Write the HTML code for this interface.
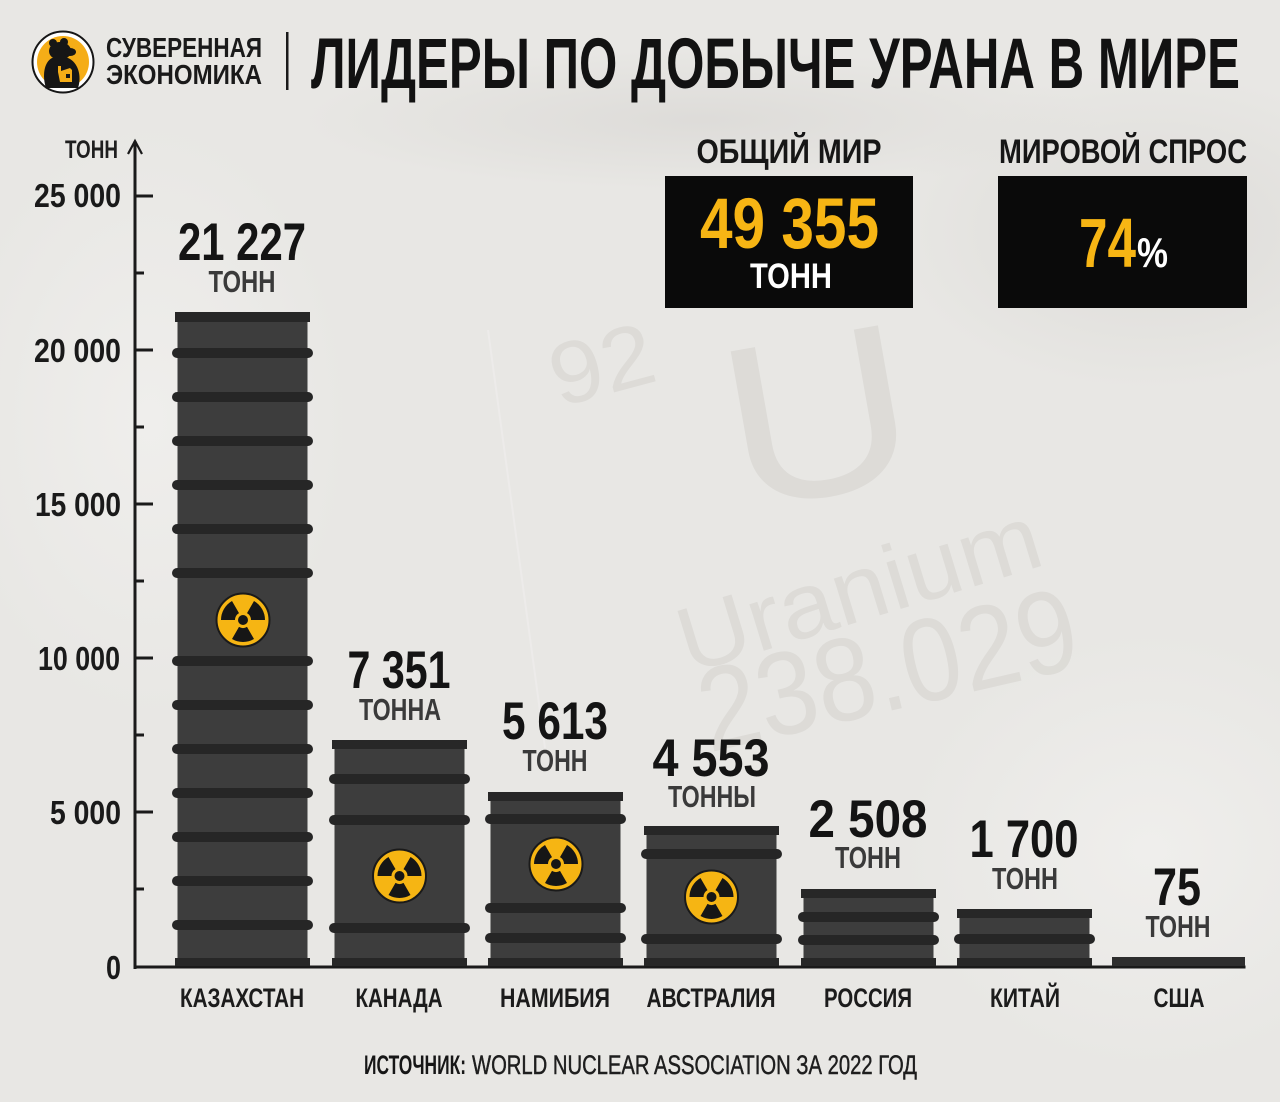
<!DOCTYPE html>
<html><head><meta charset="utf-8"><style>
html,body{margin:0;padding:0;background:#e8e7e4;}
svg{display:block;}
text{font-family:"Liberation Sans","DejaVu Sans",sans-serif;font-weight:bold;}
</style></head><body>
<svg width="1280" height="1102" viewBox="0 0 1280 1102" xmlns="http://www.w3.org/2000/svg">
<defs>
<radialGradient id="sh1" cx="0.5" cy="0.5" r="0.5"><stop offset="0" stop-color="#d9d7d4" stop-opacity="0.7"/><stop offset="1" stop-color="#d9d7d4" stop-opacity="0"/></radialGradient>
<radialGradient id="sh2" cx="0.5" cy="0.5" r="0.5"><stop offset="0" stop-color="#f1f0ee" stop-opacity="0.8"/><stop offset="1" stop-color="#f1f0ee" stop-opacity="0"/></radialGradient>
<symbol id="rad" viewBox="-28 -28 56 56" overflow="visible">
<circle cx="0" cy="0" r="26.5" fill="#f6b513" stroke="#1a1a1a" stroke-width="2"/>
<g fill="#161616">
<path d="M4,-6.93 L11,-19.05 A22,22 0 0 1 22,0 L8,0 A8,8 0 0 0 4,-6.93 Z"/>
<path d="M-8,0 L-22,0 A22,22 0 0 1 -11,-19.05 L-4,-6.93 A8,8 0 0 0 -8,0 Z"/>
<path d="M4,6.93 L11,19.05 A22,22 0 0 1 -11,19.05 L-4,6.93 A8,8 0 0 0 4,6.93 Z"/>
<circle cx="0" cy="0" r="5"/>
</g>
</symbol>
</defs>

<!-- background -->
<rect x="0" y="0" width="1280" height="1102" fill="#e8e7e4"/>
<ellipse cx="1150" cy="230" rx="260" ry="160" fill="url(#sh1)"/>
<ellipse cx="700" cy="120" rx="400" ry="70" fill="url(#sh1)"/>
<ellipse cx="150" cy="420" rx="200" ry="300" fill="url(#sh2)"/>
<ellipse cx="1150" cy="850" rx="250" ry="220" fill="url(#sh2)"/>
<!-- faded element tile -->
<g fill="#d3d1cd" opacity="0.55">
<path d="M488,330 L545,748" stroke="#f4f3f1" stroke-width="2" fill="none" opacity="0.8"/>
<text x="548" y="395" font-size="88" style="font-weight:normal" transform="rotate(-15 600 360)" textLength="105" lengthAdjust="spacingAndGlyphs">92</text>
<text x="722" y="495" font-size="230" style="font-weight:normal" transform="rotate(-10 820 410)" textLength="190" lengthAdjust="spacingAndGlyphs">U</text>
<text x="665" y="625" font-size="92" style="font-weight:normal" transform="rotate(-17 840 570)" textLength="375" lengthAdjust="spacingAndGlyphs">Uranium</text>
<text x="695" y="712" font-size="118" style="font-weight:normal" transform="rotate(-13 880 670)" textLength="385" lengthAdjust="spacingAndGlyphs">238.029</text>
</g>

<!-- logo -->
<circle cx="63" cy="62" r="30.5" fill="#ffffff" stroke="#161616" stroke-width="2"/>
<circle cx="63" cy="62" r="26" fill="#f5ad17"/>
<g fill="#161616">
<circle cx="53" cy="43" r="4"/>
<circle cx="64" cy="42" r="4"/>
<ellipse cx="60" cy="51" rx="11" ry="9"/>
<ellipse cx="70" cy="52" rx="6" ry="4"/>
<path d="M46,88 C42,76 44,62 52,58 L68,58 C78,62 82,76 78,88 Z"/>
</g>
<path d="M58,72 L58,66 L61,66 L61,71 L70,68 L72,70 L72,82 L60,82 Z" fill="#f5ad17"/>
<rect x="66" y="74" width="4" height="4" fill="#161616"/>
<text x="106" y="57" font-size="28" fill="#1a1a1a" textLength="156" lengthAdjust="spacingAndGlyphs">СУВЕРЕННАЯ</text>
<text x="106" y="84" font-size="28" fill="#1a1a1a" textLength="156" lengthAdjust="spacingAndGlyphs">ЭКОНОМИКА</text>
<rect x="286" y="32" width="2.5" height="58" fill="#1a1a1a"/>
<text x="311" y="88" font-size="71" fill="#121212" textLength="929" lengthAdjust="spacingAndGlyphs">ЛИДЕРЫ ПО ДОБЫЧЕ УРАНА В МИРЕ</text>

<!-- info boxes -->
<text x="789" y="163" font-size="34" fill="#161616" text-anchor="middle" textLength="185" lengthAdjust="spacingAndGlyphs">ОБЩИЙ МИР</text>
<text x="1123" y="163" font-size="34" fill="#161616" text-anchor="middle" textLength="248" lengthAdjust="spacingAndGlyphs">МИРОВОЙ СПРОС</text>
<rect x="665" y="176" width="248" height="132" fill="#0a0a0a"/>
<rect x="998" y="176" width="249" height="132" fill="#0a0a0a"/>
<text x="700" y="248" font-size="71" fill="#f7b514" textLength="179" lengthAdjust="spacingAndGlyphs">49 355</text>
<text x="750" y="288" font-size="35" fill="#ffffff" textLength="82" lengthAdjust="spacingAndGlyphs">ТОНН</text>
<text x="1079" y="267" font-size="70" fill="#f7b514" textLength="57" lengthAdjust="spacingAndGlyphs">74</text>
<text x="1137" y="267" font-size="42" fill="#ffffff" textLength="31" lengthAdjust="spacingAndGlyphs">%</text>

<!-- axis -->
<text x="65" y="158" font-size="25" fill="#1e1e1e" textLength="53" lengthAdjust="spacingAndGlyphs">ТОНН</text>
<path d="M128,154 L135,141 L142,154" stroke="#1a1a1a" stroke-width="2.2" fill="none"/>
<rect x="133.5" y="141" width="3" height="828" fill="#1a1a1a"/>
<rect x="133.5" y="965.5" width="1112" height="3" fill="#1a1a1a"/>
<g fill="#1a1a1a">
<rect x="135" y="194.5" width="18" height="3"/>
<rect x="135" y="348.5" width="18" height="3"/>
<rect x="135" y="502.5" width="18" height="3"/>
<rect x="135" y="656.5" width="18" height="3"/>
<rect x="135" y="810.5" width="18" height="3"/>
<rect x="135" y="271.5" width="9" height="3"/>
<rect x="135" y="425.5" width="9" height="3"/>
<rect x="135" y="579.5" width="9" height="3"/>
<rect x="135" y="733.5" width="9" height="3"/>
<rect x="135" y="887.5" width="9" height="3"/>
</g>
<g font-size="33" fill="#1a1a1a" text-anchor="end">
<text x="121" y="207" textLength="87" lengthAdjust="spacingAndGlyphs">25 000</text>
<text x="121" y="362" textLength="87" lengthAdjust="spacingAndGlyphs">20 000</text>
<text x="121" y="516" textLength="86" lengthAdjust="spacingAndGlyphs">15 000</text>
<text x="120" y="670" textLength="82" lengthAdjust="spacingAndGlyphs">10 000</text>
<text x="121" y="824" textLength="71" lengthAdjust="spacingAndGlyphs">5 000</text>
<text x="121" y="979" textLength="15" lengthAdjust="spacingAndGlyphs">0</text>
</g>

<!-- barrels -->
<g>
<!-- Kazakhstan cx 242.5 -->
<rect x="177.5" y="314" width="130" height="652" fill="#3d3d3d"/>
<rect x="175" y="312" width="135" height="10" fill="#272727"/>
<rect x="175" y="958" width="135" height="8" fill="#272727"/>
<g fill="#262626">
<rect x="172" y="348" width="141" height="10" rx="5"/>
<rect x="172" y="392" width="141" height="10" rx="5"/>
<rect x="172" y="436" width="141" height="10" rx="5"/>
<rect x="172" y="480" width="141" height="10" rx="5"/>
<rect x="172" y="524" width="141" height="10" rx="5"/>
<rect x="172" y="568" width="141" height="10" rx="5"/>
<rect x="172" y="656" width="141" height="10" rx="5"/>
<rect x="172" y="700" width="141" height="10" rx="5"/>
<rect x="172" y="744" width="141" height="10" rx="5"/>
<rect x="172" y="788" width="141" height="10" rx="5"/>
<rect x="172" y="832" width="141" height="10" rx="5"/>
<rect x="172" y="876" width="141" height="10" rx="5"/>
<rect x="172" y="920" width="141" height="10" rx="5"/>
</g>
<use href="#rad" x="215" y="592" width="56" height="56"/>

<!-- Canada cx 399.5 -->
<rect x="334.5" y="742" width="130" height="224" fill="#3d3d3d"/>
<rect x="332" y="740" width="135" height="9" fill="#272727"/>
<rect x="332" y="958" width="135" height="8" fill="#272727"/>
<g fill="#262626">
<rect x="329" y="774" width="141" height="10" rx="5"/>
<rect x="329" y="815" width="141" height="10" rx="5"/>
<rect x="329" y="923" width="141" height="10" rx="5"/>
</g>
<use href="#rad" x="371.5" y="848" width="56" height="56"/>

<!-- Namibia cx 555.5 -->
<rect x="490.5" y="794" width="130" height="172" fill="#3d3d3d"/>
<rect x="488" y="792" width="135" height="9" fill="#272727"/>
<rect x="488" y="958" width="135" height="8" fill="#272727"/>
<g fill="#262626">
<rect x="485" y="814" width="141" height="10" rx="5"/>
<rect x="485" y="903" width="141" height="10" rx="5"/>
<rect x="485" y="933" width="141" height="10" rx="5"/>
</g>
<use href="#rad" x="528" y="836" width="56" height="56"/>

<!-- Australia cx 711.5 -->
<rect x="646.5" y="828" width="130" height="138" fill="#3d3d3d"/>
<rect x="644" y="826" width="135" height="9" fill="#272727"/>
<rect x="644" y="958" width="135" height="8" fill="#272727"/>
<g fill="#262626">
<rect x="641" y="849" width="141" height="10" rx="5"/>
<rect x="641" y="934" width="141" height="10" rx="5"/>
</g>
<use href="#rad" x="683.5" y="869" width="56" height="56"/>

<!-- Russia cx 868.5 -->
<rect x="803.5" y="891" width="130" height="75" fill="#3d3d3d"/>
<rect x="801" y="889" width="135" height="9" fill="#272727"/>
<rect x="801" y="958" width="135" height="8" fill="#272727"/>
<g fill="#262626">
<rect x="798" y="912" width="141" height="10" rx="5"/>
<rect x="798" y="935" width="141" height="10" rx="5"/>
</g>

<!-- China cx 1024.5 -->
<rect x="959.5" y="911" width="130" height="55" fill="#3d3d3d"/>
<rect x="957" y="909" width="135" height="9" fill="#272727"/>
<rect x="957" y="958" width="135" height="8" fill="#272727"/>
<g fill="#262626">
<rect x="954" y="934" width="141" height="10" rx="5"/>
</g>

<!-- USA -->
<rect x="1112" y="957" width="133" height="9" fill="#2e2e2e"/>
</g>

<!-- value labels -->
<g fill="#141414" font-size="53" text-anchor="middle">
<text x="242" y="260" textLength="128" lengthAdjust="spacingAndGlyphs">21 227</text>
<text x="399" y="688" textLength="103" lengthAdjust="spacingAndGlyphs">7 351</text>
<text x="555" y="739" textLength="106" lengthAdjust="spacingAndGlyphs">5 613</text>
<text x="711" y="776" textLength="117" lengthAdjust="spacingAndGlyphs">4 553</text>
<text x="868" y="837" textLength="119" lengthAdjust="spacingAndGlyphs">2 508</text>
<text x="1024" y="857" textLength="109" lengthAdjust="spacingAndGlyphs">1 700</text>
<text x="1177" y="905" textLength="48" lengthAdjust="spacingAndGlyphs">75</text>
</g>
<g fill="#3a3a3a" font-size="31" text-anchor="middle">
<text x="242" y="292" textLength="67" lengthAdjust="spacingAndGlyphs">ТОНН</text>
<text x="400" y="720" textLength="82" lengthAdjust="spacingAndGlyphs">ТОННА</text>
<text x="555" y="771" textLength="65" lengthAdjust="spacingAndGlyphs">ТОНН</text>
<text x="712" y="807" textLength="88" lengthAdjust="spacingAndGlyphs">ТОННЫ</text>
<text x="868" y="868" textLength="66" lengthAdjust="spacingAndGlyphs">ТОНН</text>
<text x="1025" y="889" textLength="66" lengthAdjust="spacingAndGlyphs">ТОНН</text>
<text x="1178" y="937" textLength="65" lengthAdjust="spacingAndGlyphs">ТОНН</text>
</g>

<!-- category labels -->
<g fill="#1c1c1c" font-size="27" text-anchor="middle">
<text x="242" y="1007" textLength="124" lengthAdjust="spacingAndGlyphs">КАЗАХСТАН</text>
<text x="399" y="1007" textLength="87" lengthAdjust="spacingAndGlyphs">КАНАДА</text>
<text x="555" y="1007" textLength="110" lengthAdjust="spacingAndGlyphs">НАМИБИЯ</text>
<text x="711" y="1007" textLength="129" lengthAdjust="spacingAndGlyphs">АВСТРАЛИЯ</text>
<text x="868" y="1007" textLength="88" lengthAdjust="spacingAndGlyphs">РОССИЯ</text>
<text x="1025" y="1007" textLength="70" lengthAdjust="spacingAndGlyphs">КИТАЙ</text>
<text x="1179" y="1007" textLength="51" lengthAdjust="spacingAndGlyphs">США</text>
</g>

<!-- source -->
<text x="364" y="1074" font-size="27" fill="#161616" textLength="102" lengthAdjust="spacingAndGlyphs">ИСТОЧНИК:</text>
<text x="472" y="1074" font-size="27" fill="#1e1e1e" style="font-weight:normal" stroke="#1e1e1e" stroke-width="0.5" textLength="445" lengthAdjust="spacingAndGlyphs">WORLD NUCLEAR ASSOCIATION ЗА 2022 ГОД</text>
</svg>
</body></html>
